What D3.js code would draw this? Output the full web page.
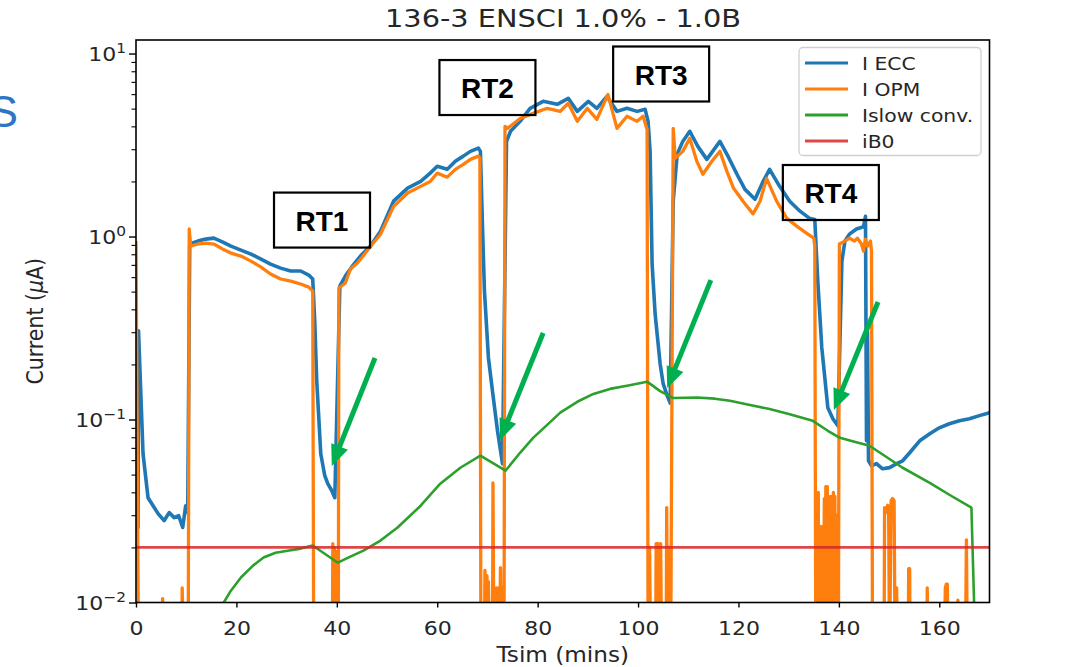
<!DOCTYPE html>
<html>
<head>
<meta charset="utf-8">
<script src="https://cdn.jsdelivr.net/npm/d3@7"></script>
<style>
  html, body { margin: 0; padding: 0; background: #fff; }
  svg { display: block; }
  text { font-family: "DejaVu Sans", sans-serif; fill: #262626; }
</style>
</head>
<body>
<svg id="chart" width="1089" height="667"></svg>
<script>
// ---- data -------------------------------------------------------------
const xTicks = [0, 20, 40, 60, 80, 100, 120, 140, 160];
const yMajorTicks = [0.01, 0.1, 1, 10];
const yTickExponents = ["\u22122", "\u22121", "0", "1"];

// I ECC (uA) against Tsim (mins)
const eccT = [0,0.4,0.5,1.4,2.4,3.4,4.4,5.6,6.6,7.6,8.5,9.3,9.9,10.3,10.7,12.3,13.9,15.5,17.3,18.9,20.9,22.9,24.9,26.8,28.8,30.8,32.8,34.4,35.2,35.6,36.0,36.8,37.6,38.2,39.0,39.6,40.6,41.7,43.1,44.7,46.7,48.7,51.3,54.1,56.7,58.6,60.0,62.0,63.6,65.2,66.6,68.2,68.6,69.0,69.4,70.2,71.0,72.0,73.0,73.8,74.6,76.5,78.5,81.1,83.9,86.1,87.9,90.1,91.8,93.8,95.8,97.8,99.8,101.4,102.0,102.4,102.8,103.4,104.4,105.0,105.8,106.4,107.0,107.8,108.9,110.3,111.9,113.7,116.3,117.9,119.7,121.3,123.3,124.9,126.2,128.2,130.2,132.2,134.1,135.2,135.8,136.6,137.8,138.8,139.8,140.6,141.2,142.1,143.5,144.9,145.3,145.5,145.7,145.9,146.5,147.5,148.7,150.1,151.5,152.7,154.1,156.1,158.1,160.0,162.0,164.0,166.0,168.0,170.0];
const eccI = [0.0247,0.0257,0.305,0.065,0.0374,0.0338,0.0306,0.028,0.031,0.0291,0.0298,0.0257,0.0338,0.031,0.91,0.944,0.968,0.98,0.932,0.887,0.843,0.802,0.753,0.707,0.672,0.648,0.648,0.616,0.586,0.345,0.163,0.065,0.0493,0.0446,0.0408,0.0374,0.536,0.608,0.689,0.782,0.887,1.07,1.56,1.84,2.0,2.22,2.42,2.33,2.58,2.75,2.92,3.04,2.92,1.17,0.504,0.217,0.143,0.0868,0.0574,3.31,3.76,4.26,5.02,5.48,5.28,5.69,4.83,5.48,5.02,5.83,4.83,5.02,4.83,4.96,4.26,2.92,0.707,0.377,0.201,0.157,0.135,0.123,1.56,2.82,3.31,3.76,3.11,2.64,3.31,2.75,2.19,1.81,1.60,2.0,2.33,1.88,1.56,1.38,1.26,1.24,0.571,0.246,0.116,0.101,0.0924,0.734,0.944,1.03,1.10,1.13,1.29,0.0765,0.305,0.0595,0.0559,0.0574,0.0538,0.0546,0.0574,0.0595,0.0658,0.0765,0.0836,0.0901,0.0948,0.0984,0.101,0.105,0.109];

// I OPM (uA); 0.005 marks readings that fall below the axis floor
const opmT = [0,0.5,5.2,5.3,5.6,9.1,9.2,9.5,10.4,10.6,10.9,12.3,13.9,15.5,17.3,18.9,20.9,22.9,24.9,26.8,28.8,30.8,32.8,34.4,35.2,35.4,39.1,39.2,39.4,39.5,39.7,39.8,40.0,40.1,40.3,40.4,41.7,42.7,44.1,45.7,47.1,48.7,51.3,54.1,56.7,58.6,60.0,62.0,63.6,65.2,66.6,68.2,68.5,68.7,69.4,69.5,69.7,69.9,70.1,70.2,70.4,71.0,71.1,71.3,71.7,71.8,72.0,72.2,72.4,72.6,72.8,73.1,73.3,73.5,74.0,76.5,79.1,81.9,84.5,86.1,87.9,89.9,91.8,94.0,95.8,97.8,99.8,101.0,101.8,102.0,102.3,102.5,103.5,103.6,104.0,104.1,104.2,104.4,104.5,104.7,105.6,105.7,105.9,106.0,106.3,106.5,107.0,107.4,108.9,110.3,111.7,112.9,114.7,116.3,117.7,119.0,120.9,122.9,124.3,125.6,127.6,129.6,131.6,133.6,135.0,135.2,135.4,135.6,135.7,135.9,136.0,136.2,136.3,136.5,136.6,136.8,136.9,137.1,137.2,137.4,137.5,137.7,137.8,138.0,138.1,138.3,138.4,138.6,138.7,138.9,139.0,139.2,139.3,139.5,139.6,139.8,139.9,140.1,141.2,142.1,143.1,143.7,144.5,144.9,145.3,145.7,146.3,146.5,146.7,149.0,149.1,149.4,149.7,149.9,150.1,150.4,150.7,151.0,151.2,151.5,151.7,153.8,153.9,154.1,154.2,157.5,157.6,157.8,161.0,161.2,161.4,161.6,161.8,163.6,163.7,163.9,165.2,165.4,165.6,170.0];
const opmI = [0.944,0.005,0.005,0.0105,0.005,0.005,0.012,0.005,0.005,1.10,0.887,0.91,0.92,0.91,0.853,0.812,0.782,0.734,0.681,0.624,0.586,0.571,0.550,0.529,0.504,0.005,0.005,0.021,0.005,0.02,0.005,0.019,0.005,0.017,0.005,0.523,0.557,0.664,0.716,0.812,0.91,1.03,1.46,1.73,1.88,2.0,2.22,2.11,2.33,2.48,2.64,2.75,2.69,0.005,0.005,0.015,0.005,0.014,0.005,0.013,0.005,0.005,0.045,0.005,0.005,0.012,0.005,0.012,0.005,0.0155,0.005,0.012,0.005,4.0,3.90,4.42,4.71,5.02,4.83,5.35,4.26,5.02,4.37,5.98,3.90,4.54,4.26,4.54,3.85,0.005,0.02,0.005,0.005,0.021,0.021,0.005,0.0105,0.005,0.021,0.005,0.005,0.033,0.005,0.02,0.02,0.005,3.90,2.68,2.92,3.44,2.58,2.19,2.58,2.92,2.27,1.84,1.56,1.33,1.56,2.08,1.56,1.26,1.14,1.04,0.98,0.887,0.005,0.04,0.005,0.04,0.005,0.026,0.005,0.026,0.005,0.026,0.005,0.037,0.005,0.043,0.005,0.043,0.005,0.016,0.005,0.038,0.005,0.038,0.005,0.04,0.005,0.038,0.005,0.03,0.005,0.025,0.005,0.91,0.944,0.98,0.944,0.98,0.91,0.832,0.968,0.887,0.944,0.832,0.005,0.005,0.033,0.031,0.034,0.033,0.005,0.036,0.037,0.036,0.005,0.012,0.005,0.005,0.0153,0.0153,0.005,0.005,0.012,0.005,0.005,0.012,0.0126,0.0126,0.005,0.005,0.0103,0.005,0.005,0.022,0.005,0.005];

// Islow conv. (uA)
const slowT = [16.9,18.9,20.9,23.3,25.4,27.8,30.2,32.8,35.2,40.2,42.7,45.3,48.7,52.1,56.7,60.6,64.6,68.6,73.6,76.5,79.1,81.9,84.5,87.9,91.1,94.4,97.8,101.8,104.4,107.0,111.7,115.3,118.3,122.3,126.2,130.2,134.8,137.8,140.2,143.1,146.1,149.1,152.7,158.1,162.0,166.4,167.0];
const slowI = [0.0094,0.0116,0.0137,0.0159,0.0176,0.0187,0.0192,0.0197,0.0205,0.0165,0.0178,0.0192,0.0218,0.0257,0.0338,0.0446,0.0545,0.0634,0.0525,0.0658,0.0794,0.0935,0.109,0.125,0.138,0.147,0.153,0.161,0.143,0.131,0.132,0.130,0.1265,0.120,0.114,0.107,0.0984,0.0868,0.0794,0.0756,0.0719,0.0634,0.0545,0.0451,0.0388,0.033,0.0085];

// iB0 baseline current (uA)
const iB0T = [0, 170];
const iB0I = [0.02, 0.02];

// series names and colours for the legend
const seriesNames = ["I ECC", "I OPM", "Islow conv.", "iB0"];
const seriesColors = ["#1f77b4", "#ff7f0e", "#2ca02c", "#d62728"];

// response-time callouts: label, centre (t, I)
const rtLabels = ["RT1", "RT2", "RT3", "RT4"];
const rtT = [37.05, 70.0, 104.6, 138.4];
const rtI = [1.23, 6.52, 7.73, 1.74];

// green pointers: tail (t, I) -> tip (t, I)
const arrowTailT = [47.6, 81.1, 114.5, 147.8];
const arrowTailI = [0.2168, 0.297, 0.578, 0.4387];
const arrowTipT = [39.0, 72.5, 105.8, 139.0];
const arrowTipI = [0.0557, 0.0773, 0.1486, 0.1127];

// ---- layout -----------------------------------------------------------
const svg = d3.select("#chart");
const box = { left: 136, right: 989.5, top: 40, bottom: 602.5 };
const SX = 1.13; // horizontal stretch of the exported figure's text

const x = d3.scaleLinear().domain([0, 170]).range([box.left, box.right]);
const y = d3.scaleLog().domain([0.01, Math.pow(10, 1.074)]).range([box.bottom, box.top]);

function stretchedText(g, px, py, str) {
  return g.append("text")
    .attr("transform", `translate(${px},${py}) scale(${SX},1)`)
    .text(str);
}

// slide heading letter peeking in from the left edge
svg.append("text")
  .attr("x", -12).attr("y", 127)
  .style("font-family", "'Liberation Sans', Arial, sans-serif")
  .style("font-size", "45px")
  .style("fill", "#2e75c8")
  .text("S");

// clip for plot marks
svg.append("defs").append("clipPath").attr("id", "plotclip")
  .append("rect")
  .attr("x", box.left).attr("y", box.top)
  .attr("width", box.right - box.left).attr("height", box.bottom - box.top);

// ---- axes -------------------------------------------------------------
const xAxis = svg.append("g")
  .attr("transform", `translate(0,${box.bottom})`)
  .call(d3.axisBottom(x).tickValues(xTicks).tickSize(5).tickPadding(5));
xAxis.select(".domain").remove();
xAxis.selectAll(".tick line").attr("stroke", "#000").attr("stroke-width", 1.4);
xAxis.selectAll(".tick text")
  .attr("fill", "#262626")
  .style("font-family", "'DejaVu Sans', sans-serif")
  .style("font-size", "19.5px")
  .attr("dy", null).attr("y", 32.5)
  .attr("transform", `scale(${SX},1)`);

const yMinorTicks = [];
[0.01, 0.1, 1].forEach(b => { for (let k = 2; k <= 9; k++) yMinorTicks.push(b * k); });

const yMinor = svg.append("g")
  .attr("transform", `translate(${box.left},0)`)
  .call(d3.axisLeft(y).tickValues(yMinorTicks).tickSize(4.5).tickFormat(() => ""));
yMinor.select(".domain").remove();
yMinor.selectAll(".tick line").attr("stroke", "#000").attr("stroke-width", 1.1);

const yAxis = svg.append("g")
  .attr("transform", `translate(${box.left},0)`)
  .call(d3.axisLeft(y).tickValues(yMajorTicks).tickSize(7).tickFormat(() => ""));
yAxis.select(".domain").remove();
yAxis.selectAll(".tick line").attr("stroke", "#000").attr("stroke-width", 1.4);
yAxis.selectAll(".tick text").remove();
yAxis.selectAll(".tick").each(function (d, i) {
  const t = d3.select(this).append("text")
    .attr("text-anchor", "end")
    .attr("transform", `translate(-10,7) scale(${SX},1)`)
    .style("font-size", "19.5px");
  t.append("tspan").text("10");
  t.append("tspan").attr("dy", -8.5).style("font-size", "13.6px").text(yTickExponents[i]);
});

// axis labels and title
stretchedText(svg, (box.left + box.right) / 2, 662, "Tsim (mins)")
  .attr("text-anchor", "middle").style("font-size", "20.5px");

const yl = svg.append("text")
  .attr("transform", `translate(43,${(box.top + box.bottom) / 2}) scale(${SX},1) rotate(-90)`)
  .attr("text-anchor", "middle")
  .style("font-size", "20.5px");
yl.append("tspan").text("Current (");
yl.append("tspan").style("font-style", "italic").text("\u03bc");
yl.append("tspan").text("A)");

stretchedText(svg, 563, 27, "136-3 ENSCI 1.0% - 1.0B")
  .attr("text-anchor", "middle").style("font-size", "25.5px");

// ---- series -----------------------------------------------------------
const marks = svg.append("g").attr("clip-path", "url(#plotclip)");
const line = d3.line().x(d => x(d[0])).y(d => y(d[1]));
const zip = (ts, vs) => ts.map((t, i) => [t, vs[i]]);

const seriesData = [zip(eccT, eccI), zip(opmT, opmI), zip(slowT, slowI), zip(iB0T, iB0I)];
const seriesWidths = [3.6, 3.3, 2.6, 2.6];
const seriesOpacity = [1, 1, 1, 0.85];

seriesData.forEach((data, i) => {
  marks.append("path")
    .datum(data)
    .attr("d", line)
    .attr("fill", "none")
    .attr("stroke", seriesColors[i])
    .attr("stroke-width", seriesWidths[i])
    .attr("stroke-opacity", seriesOpacity[i])
    .attr("stroke-linejoin", "round");
});

// frame
svg.append("rect")
  .attr("x", box.left).attr("y", box.top)
  .attr("width", box.right - box.left).attr("height", box.bottom - box.top)
  .attr("fill", "none").attr("stroke", "#000").attr("stroke-width", 1.6);

// ---- legend -----------------------------------------------------------
const lg = svg.append("g").attr("transform", "translate(799,47.5)");
lg.append("rect")
  .attr("width", 182).attr("height", 108).attr("rx", 4)
  .attr("fill", "#fff").attr("fill-opacity", 0.8)
  .attr("stroke", "#d0d0d0").attr("stroke-width", 1.3);
seriesNames.forEach((name, i) => {
  const cy = 15.5 + i * 26;
  lg.append("line")
    .attr("x1", 6).attr("x2", 49).attr("y1", cy).attr("y2", cy)
    .attr("stroke", seriesColors[i]).attr("stroke-width", 3)
    .attr("stroke-opacity", seriesOpacity[i]);
  stretchedText(lg, 63, cy + 6.5, name).style("font-size", "18px");
});

// ---- callouts ---------------------------------------------------------
const green = "#00b050";
arrowTailT.forEach((t0, i) => {
  const x0 = x(t0), y0 = y(arrowTailI[i]);
  const x1 = x(arrowTipT[i]), y1 = y(arrowTipI[i]);
  const dx = x1 - x0, dy = y1 - y0, len = Math.hypot(dx, dy);
  const ux = dx / len, uy = dy / len;
  const headLen = 21, headHalf = 9;
  const bx = x1 - ux * headLen, by = y1 - uy * headLen;
  svg.append("line")
    .attr("x1", x0).attr("y1", y0).attr("x2", bx + ux * 2).attr("y2", by + uy * 2)
    .attr("stroke", green).attr("stroke-width", 5);
  svg.append("polygon")
    .attr("points", [[x1, y1], [bx - uy * headHalf, by + ux * headHalf], [bx + uy * headHalf, by - ux * headHalf]]
      .map(p => p.join(",")).join(" "))
    .attr("fill", green);
});

rtLabels.forEach((lab, i) => {
  const cx = x(rtT[i]), cy = y(rtI[i]);
  svg.append("rect")
    .attr("x", cx - 48).attr("y", cy - 27.5)
    .attr("width", 96).attr("height", 55)
    .attr("fill", "none").attr("stroke", "#000").attr("stroke-width", 2.2);
  svg.append("text")
    .attr("x", cx).attr("y", cy + 10.5)
    .attr("text-anchor", "middle")
    .style("font-family", "'Liberation Sans', Arial, sans-serif")
    .style("font-weight", "bold")
    .style("font-size", "28px")
    .style("fill", "#000")
    .text(lab);
});
</script>
</body>
</html>
